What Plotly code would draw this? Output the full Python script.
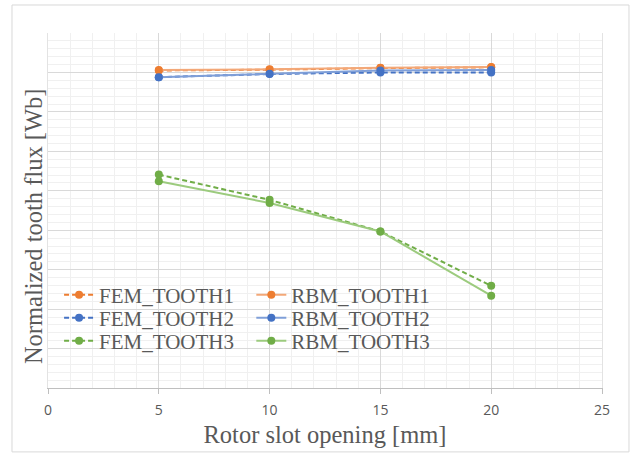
import plotly.graph_objects as go

# Rotor slot opening [mm]
slot_opening = [5, 10, 15, 20]

# Normalized tooth flux, FEM reference results
fem_tooth1 = [0.805, 0.807, 0.811, 0.813]
fem_tooth2 = [0.788, 0.796, 0.800, 0.800]
fem_tooth3 = [0.541, 0.477, 0.397, 0.259]

# Normalized tooth flux, reluctance-based model results
rbm_tooth1 = [0.806, 0.808, 0.812, 0.814]
rbm_tooth2 = [0.788, 0.797, 0.805, 0.806]
rbm_tooth3 = [0.524, 0.469, 0.397, 0.234]

x_ticks = [0, 5, 10, 15, 20, 25]

ORANGE, BLUE, GREEN = "#ED7D31", "#4472C4", "#70AD47"
ORANGE_L, BLUE_L, GREEN_L = "#F3A878", "#7F9FD8", "#9CCB7E"
TEXT = "#595959"
SERIF = "Liberation Serif, Times New Roman, serif"

series = [
    ("FEM_TOOTH1", fem_tooth1, ORANGE, ORANGE, "5px,3px", "legend"),
    ("FEM_TOOTH2", fem_tooth2, BLUE, BLUE, "5px,3px", "legend2"),
    ("FEM_TOOTH3", fem_tooth3, GREEN, GREEN, "5px,3px", "legend3"),
    ("RBM_TOOTH1", rbm_tooth1, ORANGE, ORANGE_L, "solid", "legend4"),
    ("RBM_TOOTH2", rbm_tooth2, BLUE, BLUE_L, "solid", "legend5"),
    ("RBM_TOOTH3", rbm_tooth3, GREEN, GREEN_L, "solid", "legend6"),
]

fig = go.Figure()
for name, vals, mcol, lcol, dash, leg in series:
    fig.add_trace(go.Scatter(
        x=slot_opening, y=vals, name=name, mode="lines+markers",
        line=dict(color=lcol, width=2, dash=dash),
        marker=dict(color=mcol, size=8),
        legend=leg,
    ))

# Two legend columns (FEM left, RBM right), one entry per row
col_x = [0.02, 0.367]
row_y = [0.262, 0.197, 0.132]
legend_font = dict(family=SERIF, size=21, color=TEXT)
legends = {}
for i, key in enumerate(["legend", "legend2", "legend3", "legend4", "legend5", "legend6"]):
    legends[key] = dict(
        x=col_x[i // 3], y=row_y[i % 3], xanchor="left", yanchor="middle",
        bgcolor="rgba(0,0,0,0)", borderwidth=0, font=legend_font,
    )

fig.update_layout(
    width=637, height=455,
    margin=dict(l=48, r=35, t=33, b=67),
    paper_bgcolor="white", plot_bgcolor="white",
    showlegend=True,
    **legends,
    xaxis=dict(
        range=[0, 25], tickvals=x_ticks, ticktext=[str(v) for v in x_ticks],
        showgrid=True, gridcolor="#d9d9d9", gridwidth=1,
        minor=dict(dtick=1, showgrid=True, gridcolor="#f0f0f0", gridwidth=1),
        showline=True, linecolor="#bfbfbf", linewidth=1,
        ticks="outside", ticklen=5, tickcolor="#bfbfbf",
        ticklabelstandoff=4,
        tickfont=dict(family="Open Sans, sans-serif", size=14, color=TEXT),
        zeroline=False,
        title=dict(text="Rotor slot opening [mm]", standoff=8,
                   font=dict(family=SERIF, size=24.5, color=TEXT)),
    ),
    yaxis=dict(
        range=[0, 0.9], dtick=0.1, showticklabels=False,
        showgrid=True, gridcolor="#d9d9d9", gridwidth=1,
        minor=dict(dtick=0.02, showgrid=True, gridcolor="#f0f0f0", gridwidth=1),
        showline=True, linecolor="#e3e3e3", mirror=True,
        zeroline=False,
    ),
    annotations=[dict(
        text="Normalized tooth flux [Wb]", textangle=-90,
        xref="paper", yref="paper", x=0.002, y=0.455,
        xanchor="right", yanchor="middle", showarrow=False,
        font=dict(family=SERIF, size=24.5, color=TEXT),
    )],
    shapes=[dict(
        type="rect", xref="paper", yref="paper",
        x0=-0.065, x1=1.0487, y0=-0.180, y1=1.0789,
        line=dict(color="#d9d9d9", width=1), fillcolor="rgba(0,0,0,0)",
        layer="below",
    )],
)

fig.write_html("out.html")
